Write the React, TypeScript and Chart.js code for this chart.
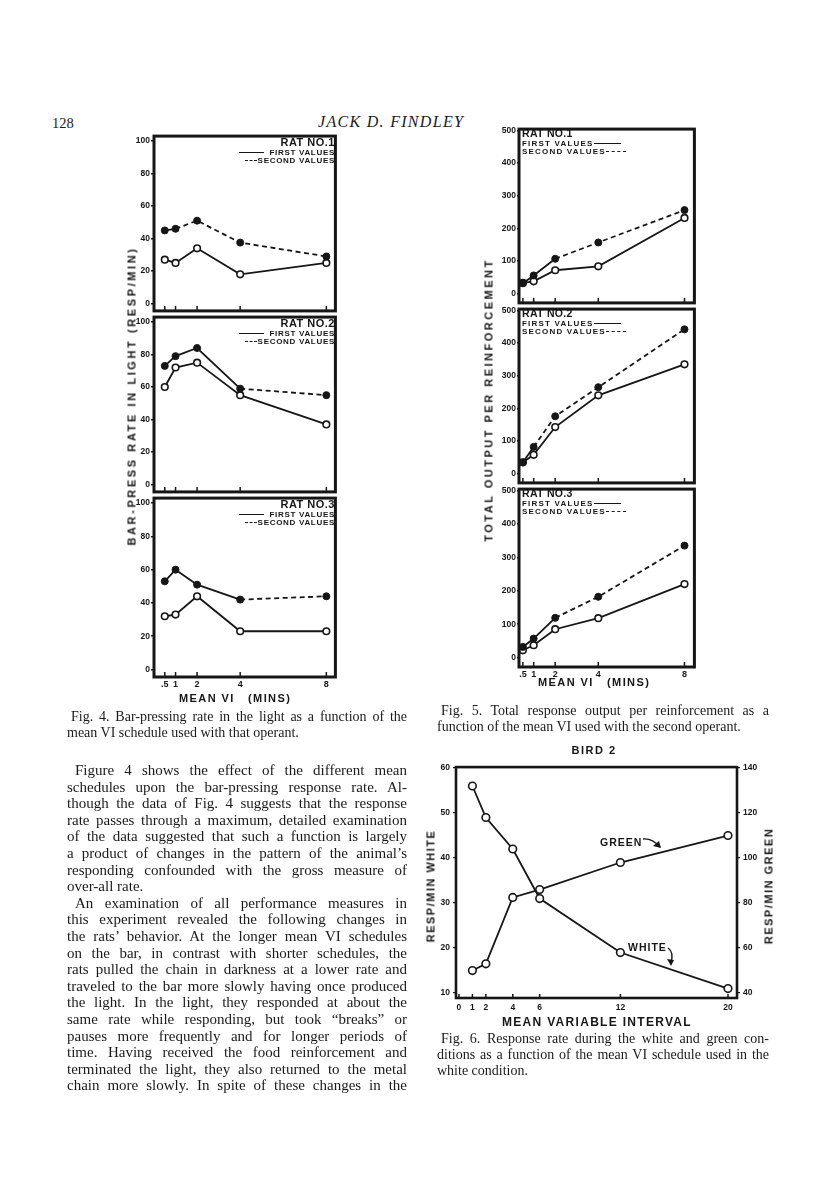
import React, { useEffect, useRef } from "react";
import { Chart, registerables } from "chart.js";

Chart.register(...registerables);

const INK = "#161616";
const SANS = "'Liberation Sans', Arial, sans-serif";
const SERIF = "'Liberation Serif', 'Times New Roman', serif";

// ---------- Fig. 4 / Fig. 5 shared x values (mean VI, minutes) ----------
const VI_X = [0.5, 1, 2, 4, 8];
const VI_TICKS = [0.5, 1, 2, 4, 8];
const VI_TICK_LABELS = [".5", "1", "2", "4", "8"];

// ---------- Fig. 4: bar-pressing rate in light (resp/min) ----------
const RATE_TICKS = [0, 20, 40, 60, 80, 100];
const RAT1_RATE_FIRST = [27, 25, 34, 18, 25];
const RAT1_RATE_SECOND = [45, 46, 51, 37.5, 29];
const RAT2_RATE_FIRST = [60, 72, 75, 55, 37];
const RAT2_RATE_SECOND = [73, 79, 84, 59, 55];
const RAT3_RATE_FIRST = [32, 33, 44, 23, 23];
const RAT3_RATE_SECOND = [53, 60, 51, 42, 44];

// ---------- Fig. 5: total output per reinforcement ----------
const OUTPUT_TICKS = [0, 100, 200, 300, 400, 500];
const RAT1_OUT_FIRST = [33, 38, 72, 84, 232];
const RAT1_OUT_SECOND = [32, 56, 107, 157, 256];
const RAT2_OUT_FIRST = [35, 58, 143, 240, 335];
const RAT2_OUT_SECOND = [35, 82, 176, 265, 442];
const RAT3_OUT_FIRST = [22, 37, 85, 118, 220];
const RAT3_OUT_SECOND = [32, 57, 119, 182, 335];

// ---------- Fig. 6: Bird 2 ----------
const BIRD_X = [1, 2, 4, 6, 12, 20];
const BIRD_X_TICKS = [0, 1, 2, 4, 6, 12, 20];
const WHITE_RATE = [56, 49, 42, 31, 19, 11];
const GREEN_RATE = [50, 53, 82.5, 86, 98, 110];
const WHITE_TICKS = [10, 20, 30, 40, 50, 60];
const GREEN_TICKS = [40, 60, 80, 100, 120, 140];

// ---------- page text ----------
const BODY_LINES: [string, string][] = [
  ["Figure 4 shows the effect of the different mean", "first"],
  ["schedules upon the bar-pressing response rate. Al-", "j"],
  ["though the data of Fig. 4 suggests that the response", "j"],
  ["rate passes through a maximum, detailed examination", "j"],
  ["of the data suggested that such a function is largely", "j"],
  ["a product of changes in the pattern of the animal\u2019s", "j"],
  ["responding confounded with the gross measure of", "j"],
  ["over-all rate.", "end"],
  ["An examination of all performance measures in", "first"],
  ["this experiment revealed the following changes in", "j"],
  ["the rats\u2019 behavior. At the longer mean VI schedules", "j"],
  ["on the bar, in contrast with shorter schedules, the", "j"],
  ["rats pulled the chain in darkness at a lower rate and", "j"],
  ["traveled to the bar more slowly having once produced", "j"],
  ["the light. In the light, they responded at about the", "j"],
  ["same rate while responding, but took \u201Cbreaks\u201D or", "j"],
  ["pauses more frequently and for longer periods of", "j"],
  ["time. Having received the food reinforcement and", "j"],
  ["terminated the light, they also returned to the metal", "j"],
  ["chain more slowly. In spite of these changes in the", "j"],
];

const framePlugin = {
  id: "frame",
  afterDraw(chart: any, _args: any, opts: any) {
    const { ctx, chartArea: a } = chart;
    ctx.save();
    ctx.strokeStyle = INK;
    if (opts.innerTicks) {
      const xs = chart.scales.x;
      ctx.lineWidth = 1.5;
      for (const v of opts.innerTicks) {
        const px = xs.getPixelForValue(v);
        ctx.beginPath();
        ctx.moveTo(px, a.bottom);
        ctx.lineTo(px, a.bottom - opts.tickLen);
        ctx.stroke();
      }
    }
    ctx.lineWidth = opts.lineWidth || 3;
    ctx.strokeRect(a.left, a.top, a.right - a.left, a.bottom - a.top);
    ctx.restore();
  },
};

function pts(xs: number[], ys: number[]) {
  return xs.map((x, i) => ({ x, y: ys[i] }));
}

function openSeries(xs: number[], ys: number[], r = 3.3, yAxisID = "y") {
  return {
    data: pts(xs, ys),
    yAxisID,
    borderColor: INK,
    borderWidth: 1.8,
    pointRadius: r,
    pointBorderWidth: 1.6,
    pointBackgroundColor: "#fff",
    pointBorderColor: INK,
    tension: 0,
    fill: false,
  };
}

function filledSeries(xs: number[], ys: number[], dashFrom: number) {
  return {
    data: pts(xs, ys),
    borderColor: INK,
    borderWidth: 1.8,
    pointRadius: 3.5,
    pointBorderWidth: 1,
    pointBackgroundColor: INK,
    pointBorderColor: INK,
    tension: 0,
    fill: false,
    segment: {
      borderDash: (c: any) => (c.p0DataIndex >= dashFrom ? [5, 3.5] : undefined),
    },
  };
}

const fixedTicks = (values: number[]) => (s: any) => {
  s.ticks = values.map((v) => ({ value: v }));
};

const tickFont = (size: number) => ({ family: SANS, weight: "bold" as const, size });

function panelConfig(o: {
  first: number[];
  second: number[];
  dashFrom: number;
  yMin: number;
  yMax: number;
  yTicks: number[];
  xMin: number;
  xMax: number;
  showX: boolean;
  yWidth: number;
  xHeight: number;
  yTickLen: number;
  yPad: number;
}) {
  return {
    type: "line",
    data: {
      datasets: [filledSeries(VI_X, o.second, o.dashFrom), openSeries(VI_X, o.first)],
    },
    options: {
      responsive: false,
      animation: false,
      events: [],
      layout: { padding: { top: 4, right: 4, left: 0, bottom: 0 } },
      plugins: {
        legend: { display: false },
        tooltip: { enabled: false },
        frame: { lineWidth: 3, innerTicks: VI_TICKS, tickLen: 5 },
      },
      scales: {
        x: {
          type: "linear",
          min: o.xMin,
          max: o.xMax,
          afterBuildTicks: fixedTicks(VI_TICKS),
          afterFit: (s: any) => {
            s.height = o.xHeight;
          },
          grid: { display: false, drawTicks: false },
          border: { display: false },
          ticks: {
            display: o.showX,
            autoSkip: false,
            maxRotation: 0,
            minRotation: 0,
            padding: 2,
            color: INK,
            font: tickFont(9),
            callback: (_v: any, i: number) => VI_TICK_LABELS[i],
          },
        },
        y: {
          type: "linear",
          min: o.yMin,
          max: o.yMax,
          afterBuildTicks: fixedTicks(o.yTicks),
          afterFit: (s: any) => {
            s.width = o.yWidth;
          },
          grid: {
            drawOnChartArea: false,
            drawTicks: true,
            tickLength: o.yTickLen,
            color: INK,
            lineWidth: 1.5,
          },
          border: { display: false },
          ticks: { autoSkip: false, padding: o.yPad, color: INK, font: tickFont(8.5) },
        },
      },
    },
    plugins: [framePlugin],
  };
}

function birdConfig() {
  return {
    type: "line",
    data: {
      datasets: [
        openSeries(BIRD_X, WHITE_RATE, 3.8, "y"),
        openSeries(BIRD_X, GREEN_RATE, 3.8, "y2"),
      ],
    },
    options: {
      responsive: false,
      animation: false,
      events: [],
      layout: { padding: { top: 4, right: 0, left: 0, bottom: 0 } },
      plugins: {
        legend: { display: false },
        tooltip: { enabled: false },
        frame: { lineWidth: 2.6, innerTicks: BIRD_X_TICKS, tickLen: 4 },
      },
      scales: {
        x: {
          type: "linear",
          min: -0.22,
          max: 20.67,
          afterBuildTicks: fixedTicks(BIRD_X_TICKS),
          afterFit: (s: any) => {
            s.height = 22;
          },
          grid: { display: false, drawTicks: false },
          border: { display: false },
          ticks: {
            autoSkip: false,
            maxRotation: 0,
            minRotation: 0,
            padding: 5,
            color: INK,
            font: tickFont(8.5),
          },
        },
        y: {
          type: "linear",
          position: "left",
          min: 8.9,
          max: 60.2,
          afterBuildTicks: fixedTicks(WHITE_TICKS),
          afterFit: (s: any) => {
            s.width = 30;
          },
          grid: { drawOnChartArea: false, drawTicks: true, tickLength: 3, color: INK, lineWidth: 1.2 },
          border: { display: false },
          ticks: { autoSkip: false, padding: 3, color: INK, font: tickFont(8.5) },
        },
        y2: {
          type: "linear",
          position: "right",
          min: 37.8,
          max: 140.4,
          afterBuildTicks: fixedTicks(GREEN_TICKS),
          afterFit: (s: any) => {
            s.width = 30;
          },
          grid: { drawOnChartArea: false, drawTicks: true, tickLength: 3, color: INK, lineWidth: 1.2 },
          border: { display: false },
          ticks: { autoSkip: false, padding: 3, color: INK, font: tickFont(8.5) },
        },
      },
    },
    plugins: [framePlugin],
  };
}

function ChartBox(props: { left: number; top: number; width: number; height: number; config: any }) {
  const ref = useRef<HTMLCanvasElement | null>(null);
  useEffect(() => {
    const chart = new Chart(ref.current as HTMLCanvasElement, props.config);
    return () => chart.destroy();
  }, []);
  return (
    <canvas
      ref={ref}
      width={props.width}
      height={props.height}
      style={{ position: "absolute", left: props.left, top: props.top, width: props.width, height: props.height }}
    />
  );
}

const abs = (left: number, top: number, extra: React.CSSProperties = {}): React.CSSProperties => ({
  position: "absolute",
  left,
  top,
  whiteSpace: "nowrap",
  ...extra,
});

function VLabel(props: { x: number; y: number; text: string; size: number; spacing: number }) {
  return (
    <div
      style={{
        position: "absolute",
        left: props.x,
        top: props.y,
        transform: "translate(-50%, -50%) rotate(-90deg)",
        whiteSpace: "nowrap",
        fontFamily: SANS,
        fontWeight: "bold",
        fontSize: props.size,
        letterSpacing: props.spacing,
        color: INK,
        lineHeight: 1,
      }}
    >
      {props.text}
    </div>
  );
}

function LineSwatch(props: { dashed: boolean; width: number }) {
  return (
    <span
      style={{
        display: "inline-block",
        width: props.width,
        borderTop: `1.6px ${props.dashed ? "dashed" : "solid"} ${INK}`,
        verticalAlign: "middle",
      }}
    />
  );
}

// Fig. 4 legend, right-aligned inside panel
function Fig4Legend(props: { top: number; rat: string }) {
  const right = 816 - 335;
  const base: React.CSSProperties = {
    position: "absolute",
    right,
    fontFamily: SANS,
    fontWeight: "bold",
    color: INK,
    whiteSpace: "nowrap",
    lineHeight: 1,
  };
  return (
    <>
      <div style={{ ...base, top: props.top + 3, fontSize: 11, letterSpacing: 0.5 }}>{props.rat}</div>
      <div style={{ ...base, top: props.top + 14.5, fontSize: 8, letterSpacing: 0.7 }}>
        <LineSwatch dashed={false} width={25} />
        <span style={{ marginLeft: 5 }}>FIRST VALUES</span>
      </div>
      <div style={{ ...base, top: props.top + 22.5, fontSize: 8, letterSpacing: 0.7 }}>
        <LineSwatch dashed={true} width={12} />
        <span style={{ marginLeft: 1 }}>SECOND VALUES</span>
      </div>
    </>
  );
}

// Fig. 5 legend, left-aligned inside panel
function Fig5Legend(props: { top: number; rat: string }) {
  const base: React.CSSProperties = {
    position: "absolute",
    left: 522,
    fontFamily: SANS,
    fontWeight: "bold",
    color: INK,
    whiteSpace: "nowrap",
    lineHeight: 1,
  };
  return (
    <>
      <div style={{ ...base, top: props.top + 1, fontSize: 10.5, letterSpacing: 0.3 }}>{props.rat}</div>
      <div style={{ ...base, top: props.top + 13, fontSize: 8, letterSpacing: 1.2 }}>
        <span>FIRST VALUES</span>
        <LineSwatch dashed={false} width={27} />
      </div>
      <div style={{ ...base, top: props.top + 21, fontSize: 8, letterSpacing: 1.2 }}>
        <span>SECOND VALUES</span>
        <LineSwatch dashed={true} width={20} />
      </div>
    </>
  );
}

function TextLine(props: { left: number; top: number; width: number; text: string; kind: string; size: number }) {
  const justify = props.kind !== "end" && props.kind !== "left";
  return (
    <div
      style={{
        position: "absolute",
        left: props.left,
        top: props.top,
        width: props.width,
        fontFamily: SERIF,
        fontSize: props.size,
        lineHeight: "16px",
        height: 16,
        overflow: "visible",
        whiteSpace: "nowrap",
        color: "#1a1a1a",
        textAlign: justify ? "justify" : "left",
        textAlignLast: justify ? "justify" : "left",
        textIndent: props.kind === "first" ? 8 : props.kind === "cap" ? 4 : 0,
      }}
    >
      {props.text}
    </div>
  );
}

export default function App() {
  useEffect(() => {
    document.body.style.margin = "0";
  }, []);

  const F4_TOPS = [134, 315, 496];
  const F4_H = 181;
  const F5_TOPS = [127, 307, 487];
  const F5_H = 180;

  const f4 = [
    [RAT1_RATE_FIRST, RAT1_RATE_SECOND, 1],
    [RAT2_RATE_FIRST, RAT2_RATE_SECOND, 3],
    [RAT3_RATE_FIRST, RAT3_RATE_SECOND, 3],
  ] as [number[], number[], number][];
  const f5 = [
    [RAT1_OUT_FIRST, RAT1_OUT_SECOND, 2],
    [RAT2_OUT_FIRST, RAT2_OUT_SECOND, 1],
    [RAT3_OUT_FIRST, RAT3_OUT_SECOND, 2],
  ] as [number[], number[], number][];

  const COL_L = 67;
  const COL_LW = 340;
  const COL_R = 437;
  const COL_RW = 332;

  return (
    <div
      style={{
        position: "absolute",
        left: 0,
        top: 0,
        width: 816,
        height: 1188,
        background: "#fff",
        overflow: "hidden",
      }}
    >
      {/* running head */}
      <div style={abs(52, 115, { fontFamily: SERIF, fontSize: 14.5, color: "#1a1a1a" })}>128</div>
      <div
        style={abs(318, 113, {
          fontFamily: SERIF,
          fontStyle: "italic",
          fontSize: 16,
          letterSpacing: 1.3,
          color: "#1a1a1a",
        })}
      >
        JACK D. FINDLEY
      </div>

      {/* ---------------- Fig. 4 ---------------- */}
      {f4.map(([first, second, dashFrom], i) => {
        const last = i === 2;
        const xh = last ? 14 : 2;
        return (
          <ChartBox
            key={"f4" + i}
            left={154 - 30}
            top={F4_TOPS[i] - 4}
            width={30 + 183 + 4}
            height={4 + F4_H + xh}
            config={panelConfig({
              first,
              second,
              dashFrom,
              yMin: -4.5,
              yMax: 103,
              yTicks: RATE_TICKS,
              xMin: 0,
              xMax: 8.42,
              showX: last,
              yWidth: 30,
              xHeight: xh,
              yTickLen: 3,
              yPad: 1,
            })}
          />
        );
      })}
      <Fig4Legend top={134} rat="RAT NO.1" />
      <Fig4Legend top={315} rat="RAT NO.2" />
      <Fig4Legend top={496} rat="RAT NO.3" />
      <VLabel x={132} y={396} text="BAR-PRESS RATE IN LIGHT (RESP/MIN)" size={11} spacing={2.6} />
      <div
        style={abs(179, 693, {
          fontFamily: SANS,
          fontWeight: "bold",
          fontSize: 11,
          letterSpacing: 1.4,
          color: INK,
          lineHeight: 1,
        })}
      >
        MEAN VI&nbsp;&nbsp;&nbsp;(MINS)
      </div>

      {/* ---------------- Fig. 5 ---------------- */}
      {f5.map(([first, second, dashFrom], i) => {
        const last = i === 2;
        const xh = last ? 13 : 2;
        return (
          <ChartBox
            key={"f5" + i}
            left={519 - 30}
            top={F5_TOPS[i] - 4}
            width={30 + 177 + 4}
            height={4 + F5_H + xh}
            config={panelConfig({
              first,
              second,
              dashFrom,
              yMin: -28,
              yMax: 504,
              yTicks: OUTPUT_TICKS,
              xMin: 0.32,
              xMax: 8.46,
              showX: last,
              yWidth: 30,
              xHeight: xh,
              yTickLen: 2,
              yPad: 1,
            })}
          />
        );
      })}
      <Fig5Legend top={127} rat="RAT NO.1" />
      <Fig5Legend top={307} rat="RAT NO.2" />
      <Fig5Legend top={487} rat="RAT NO.3" />
      <VLabel x={489} y={400} text="TOTAL OUTPUT PER REINFORCEMENT" size={11} spacing={2.5} />
      <div
        style={abs(538, 677, {
          fontFamily: SANS,
          fontWeight: "bold",
          fontSize: 11,
          letterSpacing: 1.4,
          color: INK,
          lineHeight: 1,
        })}
      >
        MEAN VI&nbsp;&nbsp;&nbsp;(MINS)
      </div>

      {/* ---------------- Fig. 6 ---------------- */}
      <div
        style={abs(594, 745, {
          transform: "translateX(-50%)",
          fontFamily: SANS,
          fontWeight: "bold",
          fontSize: 11,
          letterSpacing: 1.5,
          color: INK,
          lineHeight: 1,
        })}
      >
        BIRD 2
      </div>
      <ChartBox left={456 - 30} top={763 - 4} width={30 + 281 + 30} height={4 + 235 + 22} config={birdConfig()} />
      <VLabel x={431} y={886} text="RESP/MIN WHITE" size={11} spacing={1.5} />
      <VLabel x={769} y={886} text="RESP/MIN GREEN" size={11} spacing={1.5} />
      <div
        style={abs(597, 1016, {
          transform: "translateX(-50%)",
          fontFamily: SANS,
          fontWeight: "bold",
          fontSize: 12,
          letterSpacing: 1.3,
          color: INK,
          lineHeight: 1,
        })}
      >
        MEAN VARIABLE INTERVAL
      </div>
      <div style={abs(600, 837, { fontFamily: SANS, fontWeight: "bold", fontSize: 10.5, letterSpacing: 1, color: INK, lineHeight: 1 })}>
        GREEN
      </div>
      <div style={abs(628, 942, { fontFamily: SANS, fontWeight: "bold", fontSize: 10.5, letterSpacing: 1, color: INK, lineHeight: 1 })}>
        WHITE
      </div>
      <svg style={{ position: "absolute", left: 0, top: 0 }} width={816} height={1188}>
        <path d="M 643 839 Q 652 838 660 847" fill="none" stroke={INK} strokeWidth={1.4} />
        <path d="M 661 848 L 653 846 L 659 841 Z" fill={INK} />
        <path d="M 668 948 Q 674 952 671 963" fill="none" stroke={INK} strokeWidth={1.4} />
        <path d="M 671 966 L 667 959 L 674 960 Z" fill={INK} />
      </svg>

      {/* ---------------- captions and body text ---------------- */}
      <TextLine left={COL_L} top={709} width={COL_LW} size={14} kind="cap" text="Fig. 4. Bar-pressing rate in the light as a function of the" />
      <TextLine left={COL_L} top={725} width={COL_LW} size={14} kind="left" text="mean VI schedule used with that operant." />

      {BODY_LINES.map(([t, k], i) => (
        <TextLine key={"b" + i} left={COL_L} top={762 + i * 16.6} width={COL_LW} size={15} kind={k} text={t} />
      ))}

      <TextLine left={COL_R} top={703} width={COL_RW} size={14} kind="cap" text="Fig. 5. Total response output per reinforcement as a" />
      <TextLine left={COL_R} top={719} width={COL_RW} size={14} kind="left" text="function of the mean VI used with the second operant." />

      <TextLine left={COL_R} top={1031} width={COL_RW} size={14} kind="cap" text="Fig. 6. Response rate during the white and green con-" />
      <TextLine left={COL_R} top={1047} width={COL_RW} size={14} kind="j" text="ditions as a function of the mean VI schedule used in the" />
      <TextLine left={COL_R} top={1063} width={COL_RW} size={14} kind="left" text="white condition." />
    </div>
  );
}
